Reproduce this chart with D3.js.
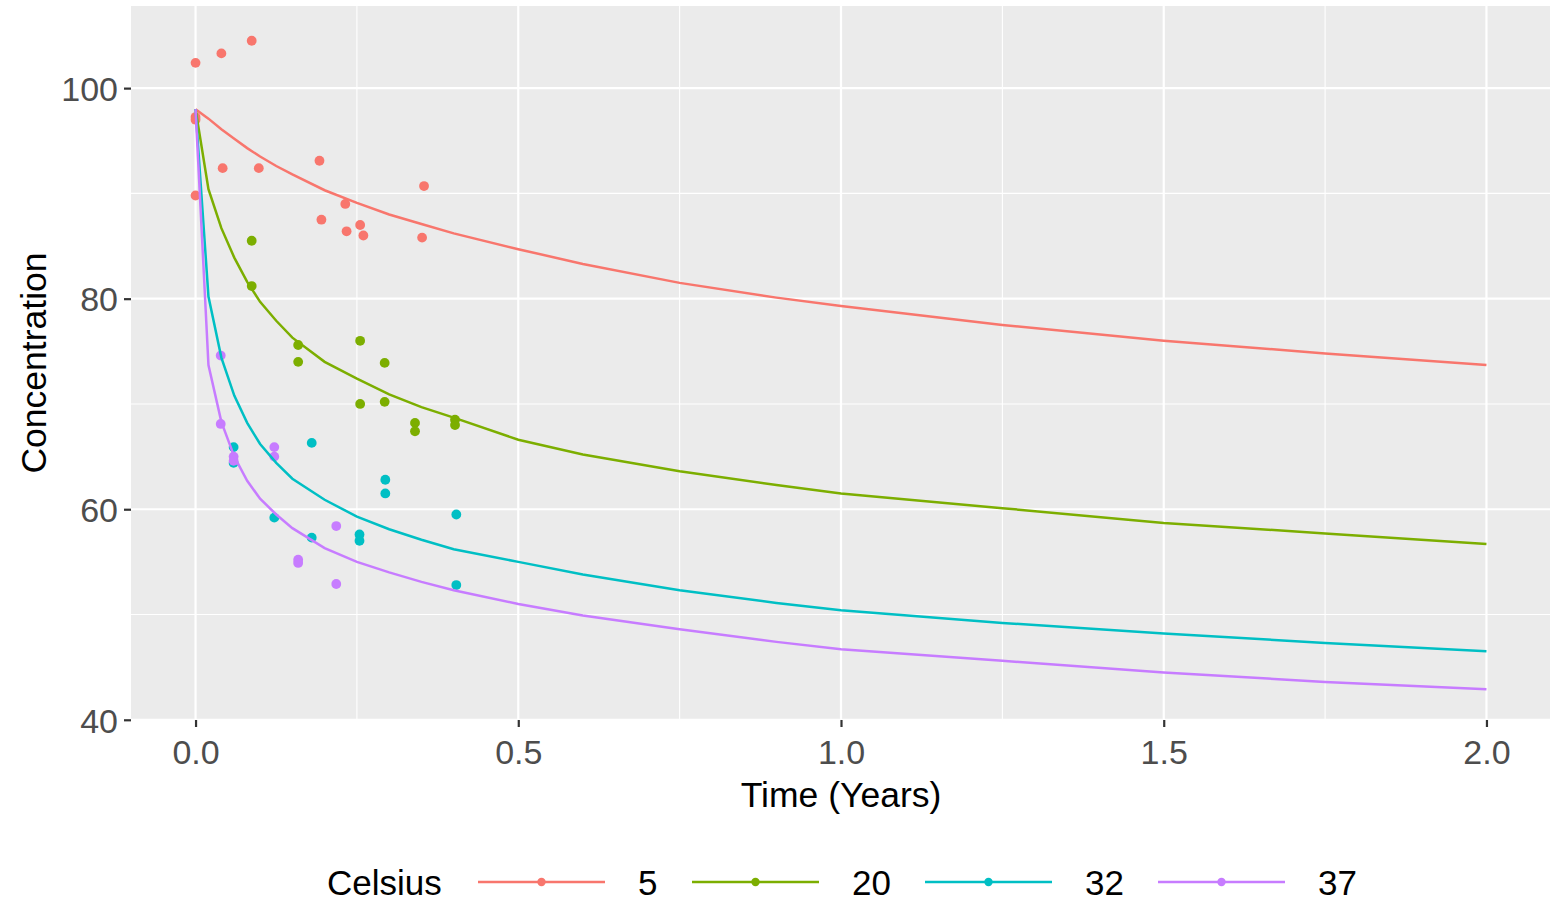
<!DOCTYPE html>
<html>
<head>
<meta charset="utf-8">
<script src="https://cdn.jsdelivr.net/npm/d3@7"></script>
<style>
  body { margin: 0; background: #fff; }
  svg { display: block; font-family: "Liberation Sans", Arial, sans-serif; }
</style>
</head>
<body>
<svg width="1550" height="901"></svg>
<script>
// series (temperature in Celsius)
const celsius = ["5", "20", "32", "37"];
const colors = ["#F8766D", "#7CAE00", "#00BFC4", "#C77CFF"];

// fitted curves
const curveTime = [0, 0.02, 0.04, 0.06, 0.08, 0.1, 0.125, 0.15, 0.2, 0.25, 0.3, 0.35, 0.4, 0.5, 0.6, 0.75, 0.9, 1.0, 1.25, 1.5, 1.75, 2.0];
const fit5  = [98.0, 97.1, 96.1, 95.2, 94.3, 93.5, 92.6, 91.8, 90.3, 89.1, 88.0, 87.1, 86.2, 84.7, 83.3, 81.5, 80.1, 79.3, 77.5, 76.0, 74.8, 73.7];
const fit20 = [98.0, 90.4, 86.7, 83.9, 81.6, 79.7, 77.9, 76.3, 74.0, 72.4, 70.9, 69.7, 68.7, 66.6, 65.2, 63.6, 62.3, 61.5, 60.1, 58.7, 57.7, 56.7];
const fit32 = [98.0, 80.2, 74.4, 70.8, 68.2, 66.2, 64.4, 62.9, 60.9, 59.3, 58.1, 57.1, 56.2, 55.0, 53.8, 52.3, 51.1, 50.4, 49.2, 48.2, 47.3, 46.5];
const fit37 = [98.0, 73.7, 68.3, 65.0, 62.7, 61.0, 59.5, 58.2, 56.3, 55.0, 54.0, 53.1, 52.3, 51.0, 49.9, 48.6, 47.4, 46.7, 45.6, 44.5, 43.6, 42.9];

// observations
const obsTime5  = [0, 0.04, 0.087, 0, 0, 0, 0.042, 0.098, 0.192, 0.195, 0.232, 0.234, 0.255, 0.26, 0.354, 0.351];
const obsConc5  = [102.4, 103.3, 104.5, 97.25, 97.0, 89.8, 92.4, 92.4, 93.1, 87.5, 89.0, 86.4, 87.0, 86.0, 90.7, 85.8];
const obsTime20 = [0.087, 0.087, 0.159, 0.159, 0.255, 0.255, 0.293, 0.293, 0.34, 0.34, 0.402, 0.402];
const obsConc20 = [85.5, 81.2, 75.6, 74.0, 76.0, 70.0, 73.9, 70.2, 68.2, 67.4, 68.5, 68.0];
const obsTime32 = [0.059, 0.059, 0.18, 0.122, 0.18, 0.254, 0.254, 0.294, 0.294, 0.404, 0.404];
const obsConc32 = [65.9, 64.4, 66.3, 59.2, 57.3, 57.6, 57.0, 62.8, 61.5, 59.5, 52.8];
const obsTime37 = [0.039, 0.039, 0.122, 0.122, 0.059, 0.059, 0.159, 0.159, 0.218, 0.218];
const obsConc37 = [74.6, 68.1, 65.9, 65.0, 65.0, 64.6, 55.2, 54.9, 58.4, 52.9];

const xTicks = [0, 0.5, 1.0, 1.5, 2.0];
const xMinor = [0.25, 0.75, 1.25, 1.75];
const yTicks = [40, 60, 80, 100];
const yMinor = [50, 70, 90];

const fits = [fit5, fit20, fit32, fit37];
const obsT = [obsTime5, obsTime20, obsTime32, obsTime37];
const obsC = [obsConc5, obsConc20, obsConc32, obsConc37];

const panel = {left: 131, right: 1551, top: 6, bottom: 720};

const svg = d3.select('svg');

const x = d3.scaleLinear().domain([-0.1, 2.1]).range([panel.left, panel.right]);
const y = d3.scaleLinear().domain([39.98, 107.8]).range([panel.bottom, panel.top]);

// panel background
svg.append("rect")
  .attr("x", panel.left).attr("y", panel.top)
  .attr("width", panel.right - panel.left).attr("height", panel.bottom - panel.top)
  .attr("fill", "#EBEBEB");

const grid = svg.append("g").attr("stroke", "#fff");
grid.selectAll(".xminor").data(xMinor).join("line")
  .attr("x1", d => x(d)).attr("x2", d => x(d))
  .attr("y1", panel.top).attr("y2", panel.bottom)
  .attr("stroke-width", 1.1);
grid.selectAll(".yminor").data(yMinor).join("line")
  .attr("y1", d => y(d)).attr("y2", d => y(d))
  .attr("x1", panel.left).attr("x2", panel.right)
  .attr("stroke-width", 1.1);
grid.selectAll(".xmajor").data(xTicks).join("line")
  .attr("x1", d => x(d)).attr("x2", d => x(d))
  .attr("y1", panel.top).attr("y2", panel.bottom)
  .attr("stroke-width", 2.2);
grid.selectAll(".ymajor").data(yTicks).join("line")
  .attr("y1", d => y(d)).attr("y2", d => y(d))
  .attr("x1", panel.left).attr("x2", panel.right)
  .attr("stroke-width", 2.2);

// clip to panel
svg.append("clipPath").attr("id", "clip").append("rect")
  .attr("x", panel.left).attr("y", panel.top)
  .attr("width", panel.right - panel.left).attr("height", panel.bottom - panel.top);

const plot = svg.append("g").attr("clip-path", "url(#clip)");

// points
celsius.forEach((c, i) => {
  plot.append("g")
    .selectAll("circle")
    .data(obsT[i].map((t, j) => ({t: t, v: obsC[i][j]})))
    .join("circle")
      .attr("cx", d => x(d.t))
      .attr("cy", d => y(d.v))
      .attr("r", 4.9)
      .attr("fill", colors[i]);
});

// fitted lines
const line = d3.line().x(d => x(d[0])).y(d => y(d[1]));
celsius.forEach((c, i) => {
  plot.append("path")
    .datum(curveTime.map((t, j) => [t, fits[i][j]]))
    .attr("d", line)
    .attr("fill", "none")
    .attr("stroke", colors[i])
    .attr("stroke-width", 2.5);
});

// axes
const xAxis = svg.append("g")
  .attr("transform", `translate(0, ${panel.bottom})`)
  .call(d3.axisBottom(x).tickValues(xTicks).tickFormat(d3.format(".1f")).tickSize(7).tickPadding(11));
const yAxis = svg.append("g")
  .attr("transform", `translate(${panel.left}, 0)`)
  .call(d3.axisLeft(y).tickValues(yTicks).tickSize(7).tickPadding(6));

[xAxis, yAxis].forEach(a => {
  a.select(".domain").remove();
  a.selectAll(".tick line").attr("stroke", "#333").attr("stroke-width", 2.2);
  a.selectAll(".tick text").attr("fill", "#4D4D4D").style("font-size", "34px");
});
xAxis.selectAll(".tick text").attr("dy", "0.75em");
yAxis.selectAll(".tick text").attr("dy", "0.36em");

// axis titles
svg.append("text")
  .attr("x", x(1.0)).attr("y", 807)
  .attr("text-anchor", "middle")
  .style("font-size", "35.5px")
  .attr("fill", "#000")
  .text("Time (Years)");
svg.append("text")
  .attr("transform", `translate(46, ${(panel.top + panel.bottom) / 2}) rotate(-90)`)
  .attr("text-anchor", "middle")
  .style("font-size", "35.5px")
  .attr("fill", "#000")
  .text("Concentration");

// legend
const legend = svg.append("g").attr("transform", "translate(0, 882)");
legend.append("text")
  .attr("x", 327).attr("y", 0).attr("dy", "0.36em")
  .style("font-size", "35px")
  .text("Celsius");
const keyX = [478, 692, 925, 1158];
celsius.forEach((c, i) => {
  const g = legend.append("g").attr("transform", `translate(${keyX[i]}, 0)`);
  g.append("line").attr("x1", 0).attr("x2", 127).attr("y1", 0).attr("y2", 0)
    .attr("stroke", colors[i]).attr("stroke-width", 2.5);
  g.append("circle").attr("cx", 63.5).attr("cy", 0).attr("r", 4.2).attr("fill", colors[i]);
  g.append("text").attr("x", 160).attr("y", 0).attr("dy", "0.36em")
    .style("font-size", "35px")
    .text(c);
});
</script>
</body>
</html>
